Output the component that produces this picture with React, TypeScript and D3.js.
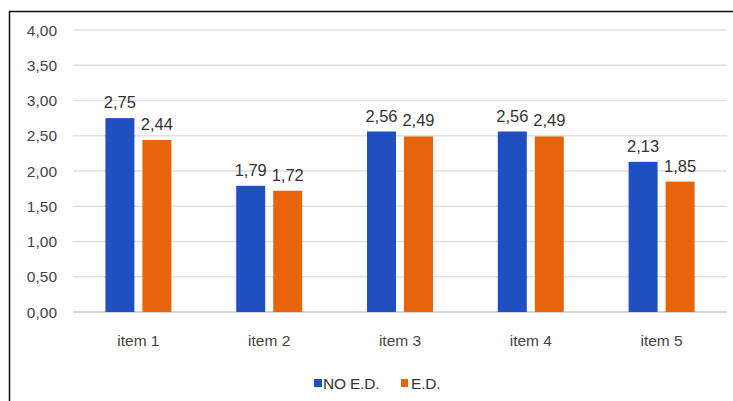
import React from "react";
import * as d3 from "d3";

const categories = ["item 1", "item 2", "item 3", "item 4", "item 5"];
const seriesNames = ["NO E.D.", "E.D."];
const noEd = [2.75, 1.79, 2.56, 2.56, 2.13];
const ed = [2.44, 1.72, 2.49, 2.49, 1.85];
const yTicks = [0, 0.5, 1, 1.5, 2, 2.5, 3, 3.5, 4];
const colors = ["#1f4fc1", "#e8640c"];

const W = 733;
const H = 401;
const plot = { left: 73, right: 727, top: 30, bottom: 312 };

const fmt = (v: number) => v.toFixed(2).replace(".", ",");

export default function App() {
  const x = d3
    .scaleBand<string>()
    .domain(categories)
    .range([plot.left, plot.right]);
  const y = d3.scaleLinear().domain([0, 4]).range([plot.bottom, plot.top]);
  const barW = 29;
  const gap = 8;
  const series = [noEd, ed];
  const font = "'Liberation Sans', Arial, sans-serif";

  return (
    <svg
      width={W}
      height={H}
      style={{ position: "absolute", left: 0, top: 0, background: "#fff" }}
      fontFamily={font}
    >
      {/* frame */}
      <line x1={9.5} y1={11} x2={9.5} y2={H} stroke="#111" strokeWidth={1.5} />
      <line x1={9} y1={11.5} x2={W} y2={11.5} stroke="#111" strokeWidth={1.5} />

      {/* gridlines and y labels */}
      {yTicks.map((t) => (
        <g key={t}>
          <line
            x1={plot.left}
            x2={plot.right}
            y1={y(t)}
            y2={y(t)}
            stroke={t === 0 ? "#c8c8c8" : "#e0e0e0"}
            strokeWidth={1.5}
          />
          <text
            x={57}
            y={y(t)}
            dy="0.36em"
            textAnchor="end"
            fontSize={15.5}
            fill="#444"
          >
            {fmt(t)}
          </text>
        </g>
      ))}

      {/* bars with value labels */}
      {categories.map((c, i) => {
        const cx = x(c)! + x.bandwidth() / 2;
        return (
          <g key={c}>
            {series.map((s, j) => {
              const bx = j === 0 ? cx - gap / 2 - barW : cx + gap / 2;
              const v = s[i];
              return (
                <g key={j}>
                  <rect
                    x={bx}
                    y={y(v)}
                    width={barW}
                    height={y(0) - y(v)}
                    fill={colors[j]}
                  />
                  <text
                    x={bx + barW / 2}
                    y={y(v) - 10}
                    textAnchor="middle"
                    fontSize={16.5}
                    fill="#333"
                  >
                    {fmt(v)}
                  </text>
                </g>
              );
            })}
            <text
              x={cx}
              y={346}
              textAnchor="middle"
              fontSize={15.5}
              fill="#444"
            >
              {c}
            </text>
          </g>
        );
      })}

      {/* legend */}
      <rect x={314} y={379} width={8} height={8} fill={colors[0]} />
      <text x={323} y={389} fontSize={15.5} fill="#333" letterSpacing={-0.2}>
        {seriesNames[0]}
      </text>
      <rect x={401} y={379} width={7} height={8} fill={colors[1]} />
      <text x={411} y={389} fontSize={15.5} fill="#333" letterSpacing={-0.2}>
        {seriesNames[1]}
      </text>
    </svg>
  );
}
